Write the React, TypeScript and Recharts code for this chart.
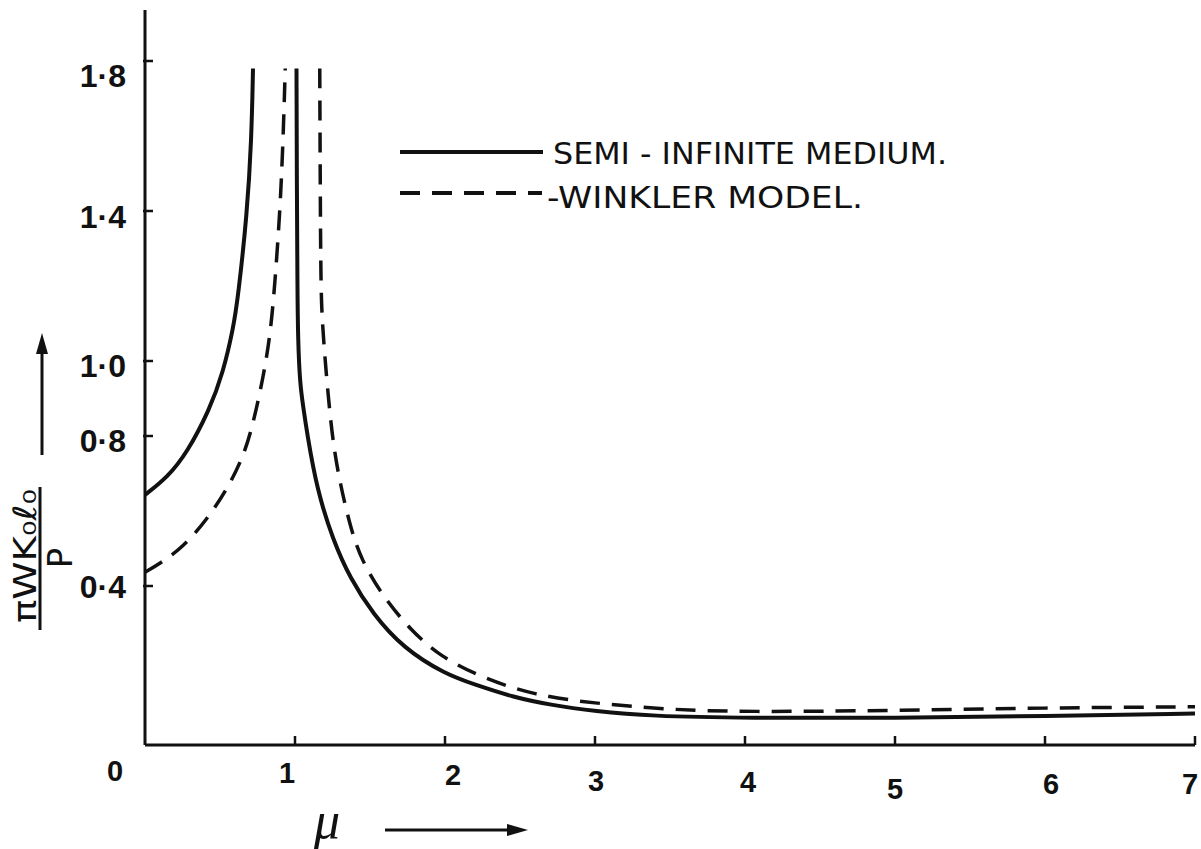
import { LineChart, Line, XAxis, YAxis, Customized } from 'recharts';

// mu values and normalised displacement
const SEMI_LEFT_MU = [0, 0.15, 0.28, 0.43, 0.52, 0.59, 0.62, 0.68, 0.71, 0.72];
const SEMI_LEFT_VAL = [0.643, 0.69, 0.755, 0.87, 0.968, 1.09, 1.17, 1.39, 1.59, 1.78];

const SEMI_RIGHT_MU = [1.01, 1.012, 1.016, 1.02, 1.033, 1.053, 1.08, 1.147, 1.253, 1.367, 1.52, 1.72, 2.0, 2.2, 2.45, 2.7, 3.0, 3.37, 4, 5, 6, 7];
const SEMI_RIGHT_VAL = [1.78, 1.5, 1.2, 1.056, 0.941, 0.883, 0.808, 0.656, 0.523, 0.421, 0.325, 0.235, 0.165, 0.137, 0.104, 0.083, 0.066, 0.053, 0.048, 0.048, 0.053, 0.06];

const WINK_LEFT_MU = [0, 0.1, 0.255, 0.41, 0.545, 0.655, 0.72, 0.79, 0.835, 0.865, 0.9, 0.92, 0.935];
const WINK_LEFT_VAL = [0.437, 0.46, 0.504, 0.576, 0.656, 0.744, 0.83, 0.96, 1.07, 1.2, 1.4, 1.58, 1.78];

const WINK_RIGHT_MU = [1.165, 1.168, 1.172, 1.182, 1.213, 1.253, 1.3, 1.367, 1.44, 1.59, 1.77, 1.97, 2.25, 2.6, 3.0, 3.5, 4, 5, 6, 7];
const WINK_RIGHT_VAL = [1.78, 1.5, 1.2, 1.1, 0.94, 0.78, 0.675, 0.56, 0.47, 0.37, 0.283, 0.211, 0.155, 0.108, 0.087, 0.07, 0.064, 0.068, 0.075, 0.078];

const X_TICKS = [0, 1, 2, 3, 4, 5, 6, 7];
const Y_TICKS = [0.4, 0.8, 1.0, 1.4, 1.8];
const Y_TICK_LABELS = ['0·4', '0·8', '1·0', '1·4', '1·8'];

const zip = (xs: number[], ys: number[]) => xs.map((x, i) => ({ x, y: ys[i] }));

const semiLeft = zip(SEMI_LEFT_MU, SEMI_LEFT_VAL);
const semiRight = zip(SEMI_RIGHT_MU, SEMI_RIGHT_VAL);
const winkLeft = zip(WINK_LEFT_MU, WINK_LEFT_VAL);
const winkRight = zip(WINK_RIGHT_MU, WINK_RIGHT_VAL);

const INK = '#111';
const DASH = '20 12';

// hand lettering is a bit uneven, nudge labels like the original
const X_LABEL_NUDGE: Record<number, [number, number]> = {
  0: [-30, 36], 1: [-8, 38], 2: [8, 40], 3: [1, 46], 4: [3, 47], 5: [0, 54], 6: [6, 49], 7: [-5, 49],
};
const Y_LABEL_NUDGE: Record<number, number> = { 0.4: 12, 0.8: 16, 1.0: 16, 1.4: 17, 1.8: 26 };

const XTick = (props: any) => {
  const { x, y, payload } = props;
  const [dx, dy] = X_LABEL_NUDGE[payload.value] || [0, 40];
  return (
    <g>
      {payload.value !== 0 && <line x1={x} y1={y} x2={x} y2={y - 9} stroke={INK} strokeWidth={2.5} />}
      <text x={x + dx} y={y + dy} textAnchor="middle" fontFamily="Liberation Sans, Arial" fontWeight="bold" fontSize={29} fill={INK}>
        {payload.value}
      </text>
    </g>
  );
};

const YTick = (props: any) => {
  const { x, y, payload } = props;
  const i = Y_TICKS.indexOf(payload.value);
  return (
    <g>
      <line x1={x - 2} y1={y} x2={x + 8} y2={y} stroke={INK} strokeWidth={2.5} />
      <text x={x - 19} y={y + (Y_LABEL_NUDGE[payload.value] ?? 16)} textAnchor="end" fontFamily="Liberation Sans, Arial" fontWeight="bold" fontSize={32} fill={INK}>
        {Y_TICK_LABELS[i]}
      </text>
    </g>
  );
};

const Annotations = () => (
  <g fill={INK}>
    {/* legend */}
    <line x1={400} y1={152} x2={543} y2={152} stroke={INK} strokeWidth={4} />
    <text x={553} y={164} fontFamily="DejaVu Sans" fontSize={31} textLength={394} lengthAdjust="spacingAndGlyphs">
      SEMI - INFINITE MEDIUM.
    </text>
    <line x1={400} y1={193} x2={542} y2={193} stroke={INK} strokeWidth={4} strokeDasharray={DASH} />
    <text x={547} y={208} fontFamily="DejaVu Sans" fontSize={31} textLength={316} lengthAdjust="spacingAndGlyphs">
      -WINKLER MODEL.
    </text>

    {/* y axis title: pi W K0 l0 / P */}
    <text transform="translate(36,556) rotate(-90)" textAnchor="middle" fontFamily="DejaVu Sans" fontSize={32} textLength={134} lengthAdjust="spacingAndGlyphs">
      πWK₀ℓ₀
    </text>
    <line x1={40} y1={487} x2={40} y2={630} stroke={INK} strokeWidth={3} />
    <text transform="translate(72,558) rotate(-90)" textAnchor="middle" fontFamily="DejaVu Sans" fontSize={34}>
      P
    </text>
    <line x1={42} y1={455} x2={42} y2={345} stroke={INK} strokeWidth={3} />
    <polygon points="42,333 36,354 48,354" />

    {/* x axis title */}
    <text x={327} y={838} textAnchor="middle" fontFamily="Liberation Serif" fontStyle="italic" fontSize={52}>
      μ
    </text>
    <line x1={385} y1={830} x2={512} y2={830} stroke={INK} strokeWidth={3} />
    <polygon points="528,830 507,824 507,836" />
  </g>
);

export default function App() {
  return (
    <div style={{ position: 'absolute', left: 0, top: 0, width: 1201, height: 849, background: '#fff' }}>
      <LineChart width={1201} height={849} margin={{ top: 10, right: 6, bottom: 74, left: 85 }}>
        <XAxis
          dataKey="x"
          type="number"
          domain={[0, 7]}
          ticks={X_TICKS}
          height={30}
          tickSize={0}
          tickMargin={0}
          tickLine={false}
          tick={<XTick />}
          axisLine={{ stroke: INK, strokeWidth: 3 }}
        />
        <YAxis
          dataKey="y"
          type="number"
          domain={[-0.024, 1.936]}
          ticks={Y_TICKS}
          width={60}
          tickSize={0}
          tickMargin={0}
          tickLine={false}
          tick={<YTick />}
          axisLine={{ stroke: INK, strokeWidth: 3 }}
        />
        <Line data={semiLeft} dataKey="y" type="basis" stroke={INK} strokeWidth={4} dot={false} isAnimationActive={false} />
        <Line data={semiRight} dataKey="y" type="basis" stroke={INK} strokeWidth={4} dot={false} isAnimationActive={false} />
        <Line data={winkLeft} dataKey="y" type="basis" stroke={INK} strokeWidth={3.5} strokeDasharray={DASH} dot={false} isAnimationActive={false} />
        <Line data={winkRight} dataKey="y" type="basis" stroke={INK} strokeWidth={3.5} strokeDasharray={DASH} dot={false} isAnimationActive={false} />
        <Customized component={Annotations} />
      </LineChart>
    </div>
  );
}
